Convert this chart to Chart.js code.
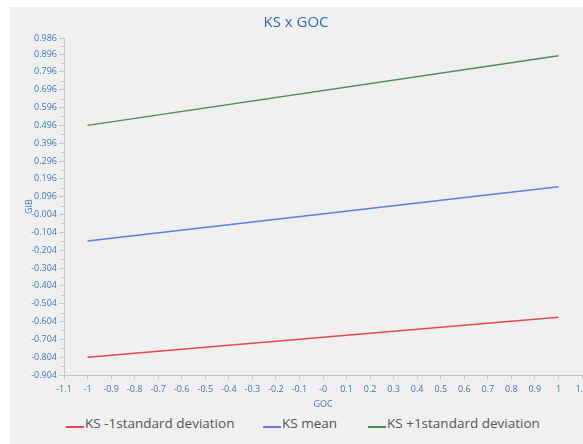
<!DOCTYPE html>
<html>
<head>
<meta charset="utf-8">
<script src="https://cdn.jsdelivr.net/npm/chart.js@4"></script>
<style>
    body { margin: 0; background: #fff; }
    #wrap { position: relative; width: 583px; height: 444px; overflow: hidden; }
    #panel { position: absolute; left: 10px; top: 7px; right: 0; bottom: 0; background: #f0f0f0; }
    #chart-box { position: absolute; left: 0; top: 0; width: 583px; height: 410px; }
    #legend { position: absolute; top: 414px; left: 0; width: 583px; height: 26px;
              font-family: "Open Sans", "Noto Sans", sans-serif; font-size: 13.5px; color: #555; }
    .item { position: absolute; top: 0; white-space: nowrap; }
    .swatch { display: inline-block; width: 18px; height: 2px; vertical-align: baseline; margin-right: 1px; }
</style>
</head>
<body>
<div id="wrap">
    <div id="panel"></div>
    <div id="chart-box"><canvas id="ks-chart" width="583" height="410"></canvas></div>
    <div id="legend"></div>
</div>
<script>
// data
const gocValues = [-1, 1];
const ksMinusSd = [-0.804, -0.580];
const ksMean = [-0.152, 0.152];
const ksPlusSd = [0.496, 0.886];

const seriesNames = ['KS -1standard deviation', 'KS mean', 'KS +1standard deviation'];
const seriesColors = ['#e8484a', '#5b7fe3', '#4e8c55'];

const xTickValues = [-1.1, -1, -0.9, -0.8, -0.7, -0.6, -0.5, -0.4, -0.3, -0.2, -0.1, 0,
    0.1, 0.2, 0.3, 0.4, 0.5, 0.6, 0.7, 0.8, 0.9, 1, 1.1];
const xTickLabels = ['-1.1', '-1', '-0.9', '-0.8', '-0.7', '-0.6', '-0.5', '-0.4', '-0.3', '-0.2', '-0.1', '-0',
    '0.1', '0.2', '0.3', '0.4', '0.5', '0.6', '0.7', '0.8', '0.9', '1', '1.1'];
const yTickValues = [0.986, 0.896, 0.796, 0.696, 0.596, 0.496, 0.396, 0.296, 0.196, 0.096, -0.004,
    -0.104, -0.204, -0.304, -0.404, -0.504, -0.604, -0.704, -0.804, -0.904];
const yMinorTicks = [0.941, 0.846, 0.746, 0.646, 0.546, 0.446, 0.346, 0.246, 0.146, 0.046, -0.054,
    -0.154, -0.254, -0.354, -0.454, -0.554, -0.654, -0.754, -0.854];

const tickBlue = '#3f78b5';
const axisGray = '#c8c8c8';

function toPoints(ys) {
    return gocValues.map((x, i) => ({ x: x, y: ys[i] }));
}

// small minor ticks on the y axis
const minorTicks = {
    id: 'minorTicks',
    afterDraw(chart) {
        const y = chart.scales.y;
        const ctx = chart.ctx;
        ctx.save();
        ctx.strokeStyle = axisGray;
        ctx.lineWidth = 1;
        yMinorTicks.forEach(v => {
            const py = Math.round(y.getPixelForValue(v)) + 0.5;
            ctx.beginPath();
            ctx.moveTo(y.right - 3, py);
            ctx.lineTo(y.right, py);
            ctx.stroke();
        });
        ctx.restore();
    }
};

const chart = new Chart(document.getElementById('ks-chart'), {
    type: 'line',
    data: {
        datasets: [ksMinusSd, ksMean, ksPlusSd].map((ys, i) => ({
            label: seriesNames[i],
            data: toPoints(ys),
            borderColor: seriesColors[i],
            backgroundColor: seriesColors[i],
            borderWidth: 1.5,
            pointRadius: 0,
            tension: 0
        }))
    },
    options: {
        responsive: false,
        animation: false,
        layout: { padding: { left: 10, right: 1, top: 4, bottom: 0 } },
        plugins: {
            legend: { display: false },
            tooltip: { enabled: false },
            title: {
                display: true,
                text: 'KS x GOC',
                color: '#2f6db3',
                font: { family: '"Open Sans", "Noto Sans", sans-serif', size: 15, weight: 'normal' },
                padding: { top: 10, bottom: 6 }
            }
        },
        scales: {
            x: {
                type: 'linear',
                min: -1.1,
                max: 1.1,
                afterBuildTicks: s => { s.ticks = xTickValues.map(v => ({ value: v })); },
                afterFit: s => { s.height = 35; s.paddingRight = 0; },
                ticks: {
                    autoSkip: false,
                    maxRotation: 0,
                    padding: 5,
                    color: tickBlue,
                    font: { family: '"Open Sans", "Noto Sans", sans-serif', size: 9 },
                    callback: (v, i) => xTickLabels[i]
                },
                grid: { display: true, drawOnChartArea: false, color: axisGray, tickLength: 4 },
                border: { color: axisGray },
                title: {
                    display: true,
                    text: 'GOC',
                    color: tickBlue,
                    font: { family: '"Open Sans", "Noto Sans", sans-serif', size: 9 },
                    padding: { top: 2, bottom: 0 }
                }
            },
            y: {
                type: 'linear',
                min: -0.904,
                max: 0.986,
                afterBuildTicks: s => { s.ticks = yTickValues.map(v => ({ value: v })); },
                afterFit: s => { s.width = 54; },
                ticks: {
                    autoSkip: false,
                    padding: 2,
                    color: tickBlue,
                    font: { family: '"Open Sans", "Noto Sans", sans-serif', size: 9 },
                    callback: v => v.toFixed(3)
                },
                grid: { display: true, drawOnChartArea: false, color: axisGray, tickLength: 5 },
                border: { color: axisGray },
                title: {
                    display: true,
                    text: 'GIB',
                    color: tickBlue,
                    font: { family: '"Open Sans", "Noto Sans", sans-serif', size: 9 },
                    padding: { top: 14, bottom: 0 }
                }
            }
        }
    },
    plugins: [minorTicks]
});

// legend below the chart, line sits on the text baseline
const legendX = [66, 263, 368];
const legend = document.getElementById('legend');
chart.data.datasets.forEach((ds, i) => {
    const item = document.createElement('div');
    item.className = 'item';
    item.style.left = legendX[i] + 'px';
    item.innerHTML = '<span class="swatch" style="background:' + ds.borderColor + '"></span>' + ds.label;
    legend.appendChild(item);
});
</script>
</body>
</html>
